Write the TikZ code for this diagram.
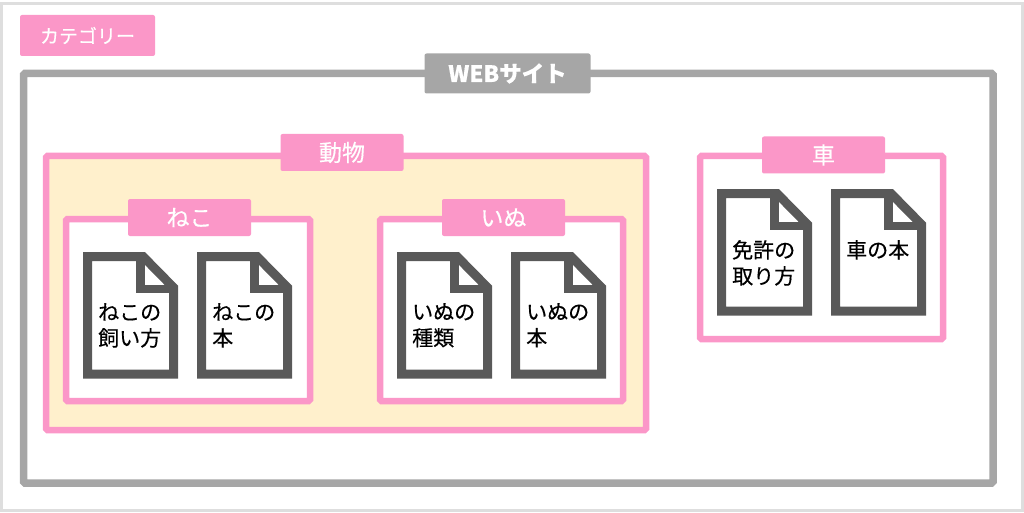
\documentclass[tikz,border=0pt]{standalone}
\usepackage{fontspec}
\setmainfont[FakeBold=0.35]{Noto Sans CJK JP}
\usepackage{xcolor}
\usetikzlibrary{positioning}
\definecolor{pink}{HTML}{FB97C8}
\definecolor{cream}{HTML}{FFF0CC}
\definecolor{frame}{HTML}{A6A6A6}
\definecolor{icon}{HTML}{595959}
\tikzset{
  catframe/.style={draw=pink,line width=6.5pt,rounded corners=1.5pt,fill=white},
  catlabel/.style={fill=pink,text=white,rounded corners=2pt,minimum width=123pt,minimum height=37pt,inner sep=0pt,font=\fontsize{23}{23}\selectfont},
  doctext/.style={anchor=north west,align=left,inner sep=0pt,text=black,font=\fontsize{21}{26}\selectfont},
}
\begin{document}
\begin{tikzpicture}[x=1pt,y=-1pt]
\useasboundingbox (0,0) rectangle (1024,513);
\draw[line width=3pt,draw=black!13] (1.5,4) rectangle (1022,510);
% site
\draw[frame,line width=7.5pt,rounded corners=1.5pt] (23.5,73.5) rectangle (993,483);
\node[catlabel,fill=frame,minimum width=166pt,minimum height=40pt,font=\fontsize{22.5}{22.5}\selectfont\bfseries] (site) at (507.5,73.5){WEBサイト};
\node[catlabel,minimum width=135pt,minimum height=41pt,font=\fontsize{19}{19}\selectfont] (legend) at (87.5,35.5){カテゴリー};
% categories
\draw[catframe,fill=cream] (46,156) rectangle (646,430);
\draw[catframe] (66,219) rectangle (310,401);
\draw[catframe] (380,219) rectangle (623,401);
\draw[catframe] (700,156) rectangle (943,339);
\node[catlabel] (animal) at (342,152.5){動物};
\node[catlabel] (cat) at (189.5,217.5){ねこ};
\node[catlabel] (dog) at (503.5,217.5){いぬ};
\node[catlabel] (car) at (823.5,155){車};
% documents
\foreach \x/\y/\nm/\txt in {83/252/catcare/ねこの\\飼い方,197/252/catbook/ねこの\\本,397/252/dogkind/いぬの\\種類,511/252/dogbook/いぬの\\本,717/189/license/免許の\\取り方,831/189/carbook/車の本}{
\begin{scope}[shift={(\x,\y)}]
\draw[icon,line width=9pt,fill=white,miter limit=10] (4.5,4.5)--(60,4.5)--(90.5,35.5)--(90.5,122)--(4.5,122)--cycle;
\draw[icon,line width=8.5pt] (57.3,4.5)--(57.3,37)--(90.5,37);
\node[doctext] (\nm) at (15,51){\txt};
\end{scope}
}
\end{tikzpicture}
\end{document}
